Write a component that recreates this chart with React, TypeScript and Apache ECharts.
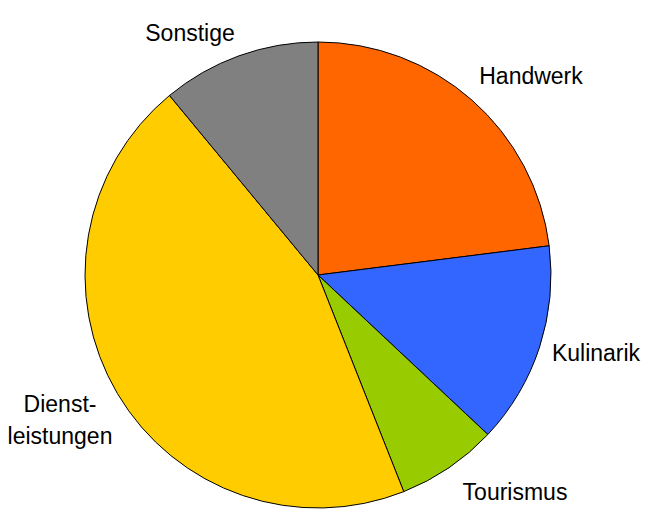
import React, { useEffect, useRef } from "react";
import * as echarts from "echarts";

const categories = ["Handwerk", "Kulinarik", "Tourismus", "Dienst-\nleistungen", "Sonstige"];
const values = [23, 14, 7, 45, 11];
const colors = ["#FF6600", "#3366FF", "#99CC00", "#FFCC00", "#808080"];
const labelCenters: [number, number][] = [
  [531, 76],
  [596, 353],
  [515, 492],
  [60, 420],
  [190, 33],
];

export default function App() {
  const ref = useRef<HTMLDivElement>(null);
  useEffect(() => {
    document.body.style.margin = "0";
    const chart = echarts.init(ref.current!, null, { renderer: "svg" });
    chart.setOption({
      animation: false,
      backgroundColor: "#ffffff",
      series: [
        {
          type: "pie",
          center: [318, 275],
          radius: [0, 233],
          startAngle: 90,
          clockwise: true,
          avoidLabelOverlap: false,
          data: categories.map((name, i) => ({
            name,
            value: values[i],
            itemStyle: { color: colors[i] },
          })),
          itemStyle: { borderColor: "#000000", borderWidth: 1 },
          label: {
            show: true,
            position: "outside",
            formatter: "{b}",
            color: "#000000",
            fontFamily: "Liberation Sans, Arial, sans-serif",
            fontSize: 23,
            lineHeight: 32,
            align: "center",
          },
          labelLine: { show: false },
          labelLayout: (params: any) => {
            const p = labelCenters[params.dataIndex];
            return { x: p[0], y: p[1], align: "center", verticalAlign: "middle" };
          },
          emphasis: { disabled: true },
        },
      ],
    });
    return () => chart.dispose();
  }, []);
  return <div ref={ref} style={{ width: 655, height: 517 }} />;
}
